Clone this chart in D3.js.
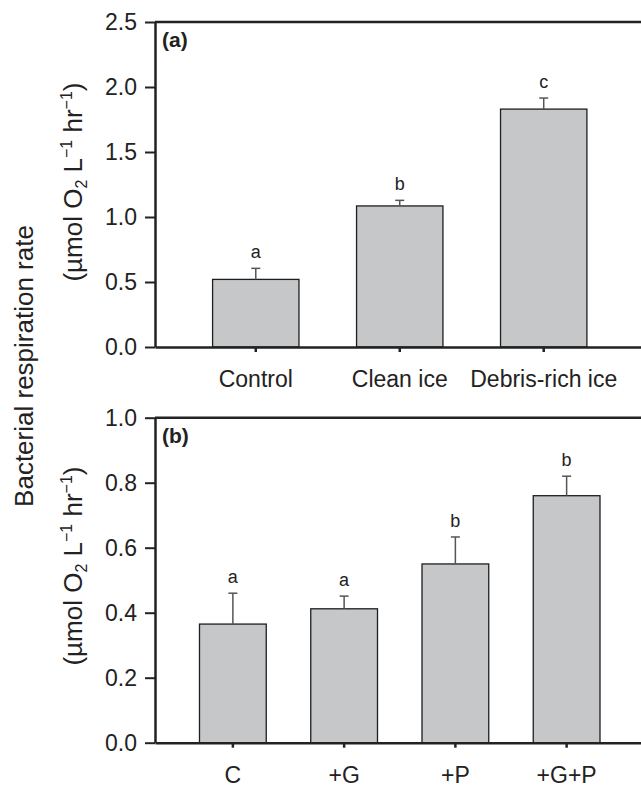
<!DOCTYPE html>
<html>
<head>
<meta charset="utf-8">
<script src="https://cdn.jsdelivr.net/npm/d3@7"></script>
<style>
  body { margin: 0; background: #fff; }
  text { font-family: "Liberation Sans", Arial, sans-serif; fill: #222; }
</style>
</head>
<body>
<div id="chart"></div>
<script>
var svgWidth = 641;
var svgHeight = 787;

// Panel (a) data
var catsA = ["Control", "Clean ice", "Debris-rich ice"];
var meansA = [0.52, 1.085, 1.83];
var errorsA = [0.085, 0.043, 0.085];
var lettersA = ["a", "b", "c"];
var ticksA = [0, 0.5, 1.0, 1.5, 2.0, 2.5];

// Panel (b) data
var catsB = ["C", "+G", "+P", "+G+P"];
var meansB = [0.365, 0.412, 0.55, 0.76];
var errorsB = [0.095, 0.039, 0.083, 0.06];
var lettersB = ["a", "a", "b", "b"];
var ticksB = [0, 0.2, 0.4, 0.6, 0.8, 1.0];

var plotLeft = 155;
var plotRight = 644.5;

var svg = d3.select("#chart")
  .append("svg")
  .attr("width", svgWidth)
  .attr("height", svgHeight);

function drawPanel(p) {
  var g = svg.append("g");

  var x = d3.scaleBand()
    .domain(p.cats)
    .range([plotLeft, plotRight])
    .paddingInner(0.4)
    .paddingOuter(0.4);

  var y = d3.scaleLinear()
    .domain([0, d3.max(p.ticks)])
    .range([p.bottom, p.top]);

  var rows = p.cats.map(function(c, i) {
    return { cat: c, mean: p.means[i], err: p.errors[i], letter: p.letters[i] };
  });

  // bars
  g.selectAll("rect.bar")
    .data(rows)
    .enter()
    .append("rect")
    .attr("class", "bar")
    .attr("x", d => x(d.cat))
    .attr("width", x.bandwidth())
    .attr("y", d => y(d.mean))
    .attr("height", d => y(0) - y(d.mean))
    .attr("fill", "#c6c7c9")
    .attr("stroke", "#1e1e1e")
    .attr("stroke-width", 1.3);

  // error bars
  var eb = g.selectAll("g.err")
    .data(rows)
    .enter()
    .append("g")
    .attr("class", "err")
    .attr("stroke", "#555")
    .attr("stroke-width", 1.5);

  eb.append("line")
    .attr("x1", d => x(d.cat) + x.bandwidth() / 2)
    .attr("x2", d => x(d.cat) + x.bandwidth() / 2)
    .attr("y1", d => y(d.mean))
    .attr("y2", d => y(d.mean + d.err));

  eb.append("line")
    .attr("x1", d => x(d.cat) + x.bandwidth() / 2 - 4.5)
    .attr("x2", d => x(d.cat) + x.bandwidth() / 2 + 4.5)
    .attr("y1", d => y(d.mean + d.err))
    .attr("y2", d => y(d.mean + d.err));

  // significance letters
  g.selectAll("text.letter")
    .data(rows)
    .enter()
    .append("text")
    .attr("class", "letter")
    .attr("x", d => x(d.cat) + x.bandwidth() / 2)
    .attr("y", d => y(d.mean + d.err) - 10)
    .attr("text-anchor", "middle")
    .attr("font-size", "18px")
    .text(d => d.letter);

  // top frame line
  g.append("line")
    .attr("x1", plotLeft)
    .attr("x2", plotRight)
    .attr("y1", y(d3.max(p.ticks)))
    .attr("y2", y(d3.max(p.ticks)))
    .attr("stroke", "#222")
    .attr("stroke-width", 2.5);

  // y axis
  var leftAxis = d3.axisLeft(y)
    .tickValues(p.ticks)
    .tickFormat(d3.format(".1f"))
    .tickSize(10)
    .tickSizeOuter(0)
    .tickPadding(8);

  var ya = g.append("g")
    .attr("transform", `translate(${plotLeft}, 0)`)
    .call(leftAxis);
  ya.select(".domain").attr("stroke", "#222").attr("stroke-width", 2.5);
  ya.selectAll(".tick line").attr("stroke", "#222").attr("stroke-width", 2);
  ya.selectAll(".tick text")
    .attr("font-size", "23px")
    .attr("font-family", null)
    .attr("fill", "#222");

  // x axis
  var bottomAxis = d3.axisBottom(x)
    .tickSize(5)
    .tickSizeOuter(0)
    .tickPadding(19);

  var xa = g.append("g")
    .attr("transform", `translate(0, ${p.bottom})`)
    .call(bottomAxis);
  xa.select(".domain").attr("stroke", "#222").attr("stroke-width", 2.5);
  xa.selectAll(".tick line").attr("stroke", "#222").attr("stroke-width", 2.5);
  xa.selectAll(".tick text")
    .attr("font-size", "23px")
    .attr("font-family", null)
    .attr("fill", "#222");

  // panel label
  g.append("text")
    .attr("x", 162)
    .attr("y", p.top + 25)
    .attr("font-size", "21px")
    .attr("font-weight", "bold")
    .text(p.label);

  // units line
  var u = g.append("text")
    .attr("transform", `translate(82, ${p.unitsY}) rotate(-90)`)
    .attr("text-anchor", "middle")
    .attr("font-size", "26px");
  u.append("tspan").text("(\u00b5mol O");
  u.append("tspan").attr("font-size", "16px").attr("dy", "5").text("2");
  u.append("tspan").attr("dy", "-5").text(" L");
  u.append("tspan").attr("font-size", "16px").attr("dy", "-10").text("\u22121");
  u.append("tspan").attr("dy", "10").text(" hr");
  u.append("tspan").attr("font-size", "16px").attr("dy", "-10").text("\u22121");
  u.append("tspan").attr("dy", "10").text(")");
}

drawPanel({
  cats: catsA, means: meansA, errors: errorsA, letters: lettersA, ticks: ticksA,
  top: 22, bottom: 347, label: "(a)", unitsY: 182
});

drawPanel({
  cats: catsB, means: meansB, errors: errorsB, letters: lettersB, ticks: ticksB,
  top: 417.7, bottom: 742.7, label: "(b)", unitsY: 566
});

// shared y title
svg.append("text")
  .attr("transform", "translate(33, 366) rotate(-90)")
  .attr("text-anchor", "middle")
  .attr("font-size", "26px")
  .text("Bacterial respiration rate");
</script>
</body>
</html>
